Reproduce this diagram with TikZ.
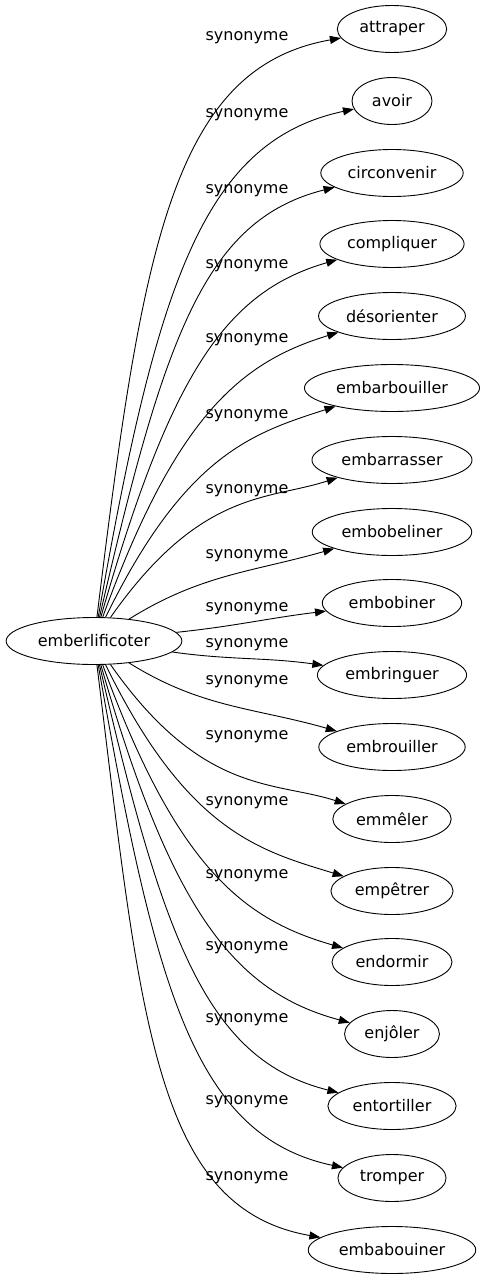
\documentclass[tikz,border=0pt]{standalone}
\usepackage{fontspec}
\setmainfont{DejaVu Sans}
\usetikzlibrary{shapes.geometric, arrows.meta}

\begin{document}
\begin{tikzpicture}[
  x=1pt, y=1pt,
  word/.style={ellipse, draw, line width=0.9pt, inner xsep=6pt, inner ysep=2pt,
               minimum height=47pt, minimum width=80pt, font=\fontsize{16}{19}\selectfont},
  lbl/.style={inner sep=0pt, font=\fontsize{16}{19}\selectfont},
  arr/.style={-{Triangle[length=11pt, width=8pt]}, line width=0.9pt,
              out looseness=1.5, in looseness=0.7},
  flat/.style={out looseness=1, in looseness=1},
]
\useasboundingbox (0,0) rectangle (485,-1283);

%% Nodes
\node[word] (emb)  at (94,-641)  {emberlificoter};
\node[word] (attraper)      at (392,-29)   {attraper};
\node[word] (avoir)         at (392,-101)  {avoir};
\node[word] (circonvenir)   at (392,-173)  {circonvenir};
\node[word] (compliquer)    at (392,-244)  {compliquer};
\node[word] (desorienter)   at (392,-316)  {désorienter};
\node[word] (embarbouiller) at (392,-388)  {embarbouiller};
\node[word] (embarrasser)   at (392,-460)  {embarrasser};
\node[word] (embobeliner)   at (392,-532)  {embobeliner};
\node[word] (embobiner)     at (392,-603)  {embobiner};
\node[word] (embringuer)    at (392,-675)  {embringuer};
\node[word] (embrouiller)   at (392,-747)  {embrouiller};
\node[word] (emmeler)       at (392,-819)  {emmêler};
\node[word] (empetrer)      at (392,-891)  {empêtrer};
\node[word] (endormir)      at (392,-962)  {endormir};
\node[word] (enjoler)       at (392,-1034) {enjôler};
\node[word] (entortiller)   at (392,-1106) {entortiller};
\node[word] (tromper)       at (392,-1178) {tromper};
\node[word] (embabouiner)   at (392,-1250) {embabouiner};

%% Edge labels
\node[lbl] (l1)  at (247,-38)   {synonyme};
\node[lbl] (l2)  at (247,-115)  {synonyme};
\node[lbl] (l3)  at (247,-191)  {synonyme};
\node[lbl] (l4)  at (247,-266)  {synonyme};
\node[lbl] (l5)  at (247,-340)  {synonyme};
\node[lbl] (l6)  at (247,-416)  {synonyme};
\node[lbl] (l7)  at (247,-491)  {synonyme};
\node[lbl] (l8)  at (247,-556)  {synonyme};
\node[lbl] (l9)  at (247,-609)  {synonyme};
\node[lbl] (l10) at (247,-645)  {synonyme};
\node[lbl] (l11) at (247,-682)  {synonyme};
\node[lbl] (l12) at (247,-737)  {synonyme};
\node[lbl] (l13) at (247,-803)  {synonyme};
\node[lbl] (l14) at (247,-876)  {synonyme};
\node[lbl] (l15) at (247,-948)  {synonyme};
\node[lbl] (l16) at (247,-1020) {synonyme};
\node[lbl] (l17) at (247,-1102) {synonyme};
\node[lbl] (l18) at (247,-1178) {synonyme};

%% Arrows
\draw[arr] (emb) to[out=83, in=190]  (attraper);
\draw[arr] (emb) to[out=80, in=192]  (avoir);
\draw[arr] (emb) to[out=77, in=194]  (circonvenir);
\draw[arr] (emb) to[out=74, in=196]  (compliquer);
\draw[arr] (emb) to[out=70, in=197]  (desorienter);
\draw[arr] (emb) to[out=64, in=198]  (embarbouiller);
\draw[arr] (emb) to[out=55, in=198]  (embarrasser);
\draw[arr, flat] (emb) to[out=32, in=196]  (embobeliner);
\draw[arr, flat] (emb) to[out=6, in=187]   (embobiner);
\draw[arr, flat] (emb) to[out=-8, in=172]  (embringuer);
\draw[arr, flat] (emb) to[out=-32, in=164] (embrouiller);
\draw[arr] (emb) to[out=-55, in=162] (emmeler);
\draw[arr] (emb) to[out=-64, in=163] (empetrer);
\draw[arr] (emb) to[out=-70, in=164] (endormir);
\draw[arr] (emb) to[out=-74, in=165] (enjoler);
\draw[arr] (emb) to[out=-77, in=166] (entortiller);
\draw[arr] (emb) to[out=-80, in=168] (tromper);
\draw[arr] (emb) to[out=-83, in=170] (embabouiner);

\end{tikzpicture}
\end{document}
